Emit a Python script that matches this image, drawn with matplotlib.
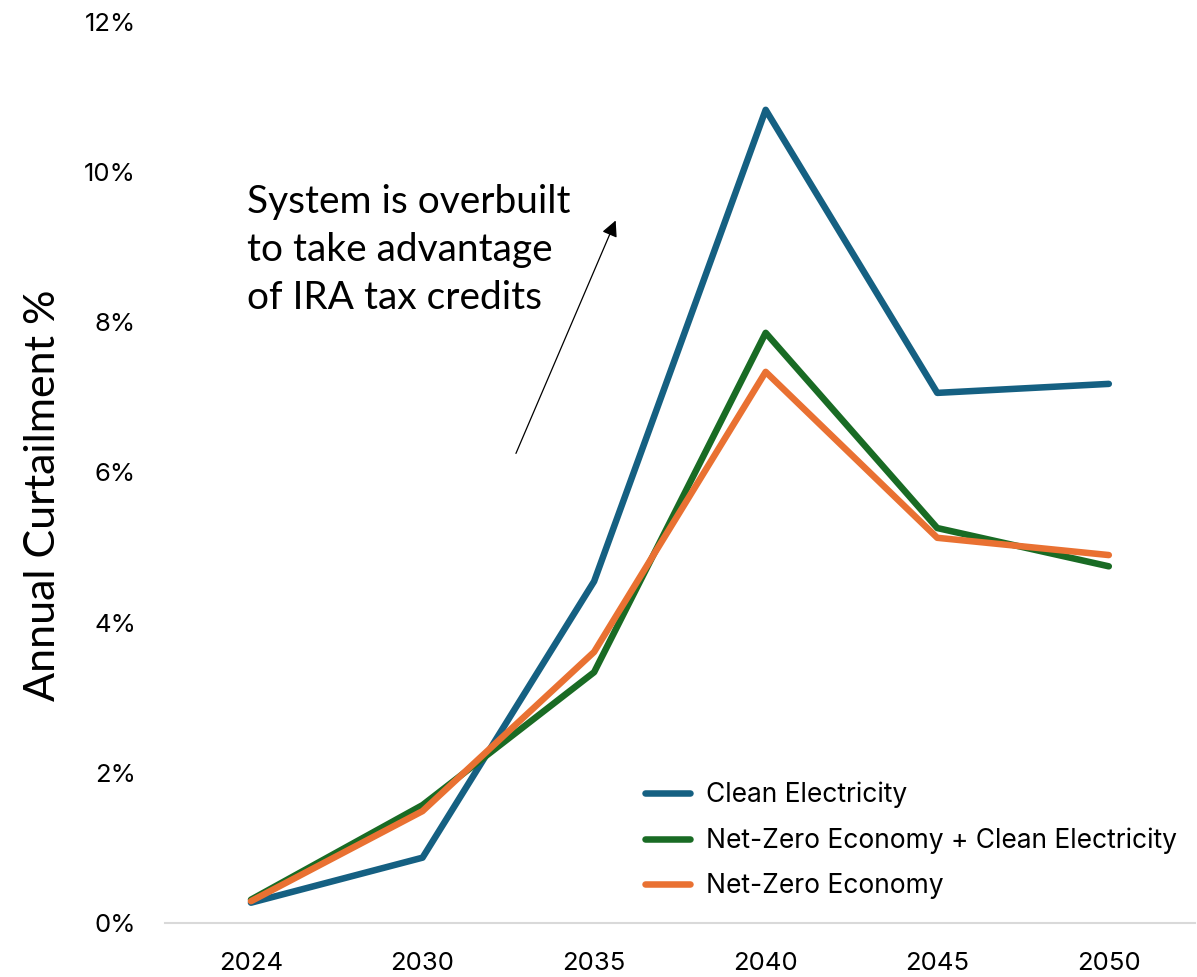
import matplotlib.pyplot as plt
from matplotlib.ticker import FuncFormatter

years = ["2024", "2030", "2035", "2040", "2045", "2050"]
clean_electricity = [0.27, 0.87, 4.55, 10.83, 7.06, 7.18]
netzero_plus_ce = [0.31, 1.57, 3.34, 7.86, 5.26, 4.75]
netzero_economy = [0.29, 1.49, 3.61, 7.34, 5.13, 4.90]

plt.rcParams['font.family'] = ['Inter', 'DejaVu Sans']

fig = plt.figure(figsize=(11.97, 9.77), dpi=100)
ax = fig.add_axes([0.138, 0.0553, 0.86, 0.9222])

x = range(len(years))
ax.plot(x, clean_electricity, color='#156082', lw=4.7, label='Clean Electricity', solid_capstyle='round')
ax.plot(x, netzero_plus_ce, color='#196B24', lw=4.7, label='Net-Zero Economy + Clean Electricity', solid_capstyle='round')
ax.plot(x, netzero_economy, color='#E97132', lw=4.7, label='Net-Zero Economy', solid_capstyle='round')

ax.set_xlim(-0.5, 5.5)
ax.set_ylim(0, 12)
ax.set_xticks(list(x))
ax.set_xticklabels(years)
ax.set_yticks(range(0, 13, 2))
ax.yaxis.set_major_formatter(FuncFormatter(lambda v, p: f"{v:.0f}%"))
ax.tick_params(axis='both', length=0, labelsize=18.5, colors='black')
ax.tick_params(axis='y', pad=21)
ax.tick_params(axis='x', pad=21)

for s in ['top', 'right', 'left']:
    ax.spines[s].set_visible(False)
ax.spines['bottom'].set_color('#d9d9d9')
ax.spines['bottom'].set_linewidth(1.5)

ax.set_ylabel('Annual Curtailment %', fontsize=31, family=['Lato', 'DejaVu Sans'])
ax.yaxis.set_label_coords(-0.100, 0.475)

ax.text(-0.022, 8.96, "System is overbuilt\nto take advantage\nof IRA tax credits",
        fontsize=28, family=['Lato', 'DejaVu Sans'], va='center', ha='left', linespacing=1.42)
ax.annotate("", xy=(2.132, 9.39), xytext=(1.538, 6.22),
            arrowprops=dict(arrowstyle='-|>', color='black', lw=0.9, mutation_scale=24))

leg = ax.legend(loc='lower left', bbox_to_anchor=(0.443, 0.0), frameon=False, fontsize=19,
                handlelength=1.7, handletextpad=0.6, labelspacing=0.73)

fig.savefig('out.png', dpi=100)
